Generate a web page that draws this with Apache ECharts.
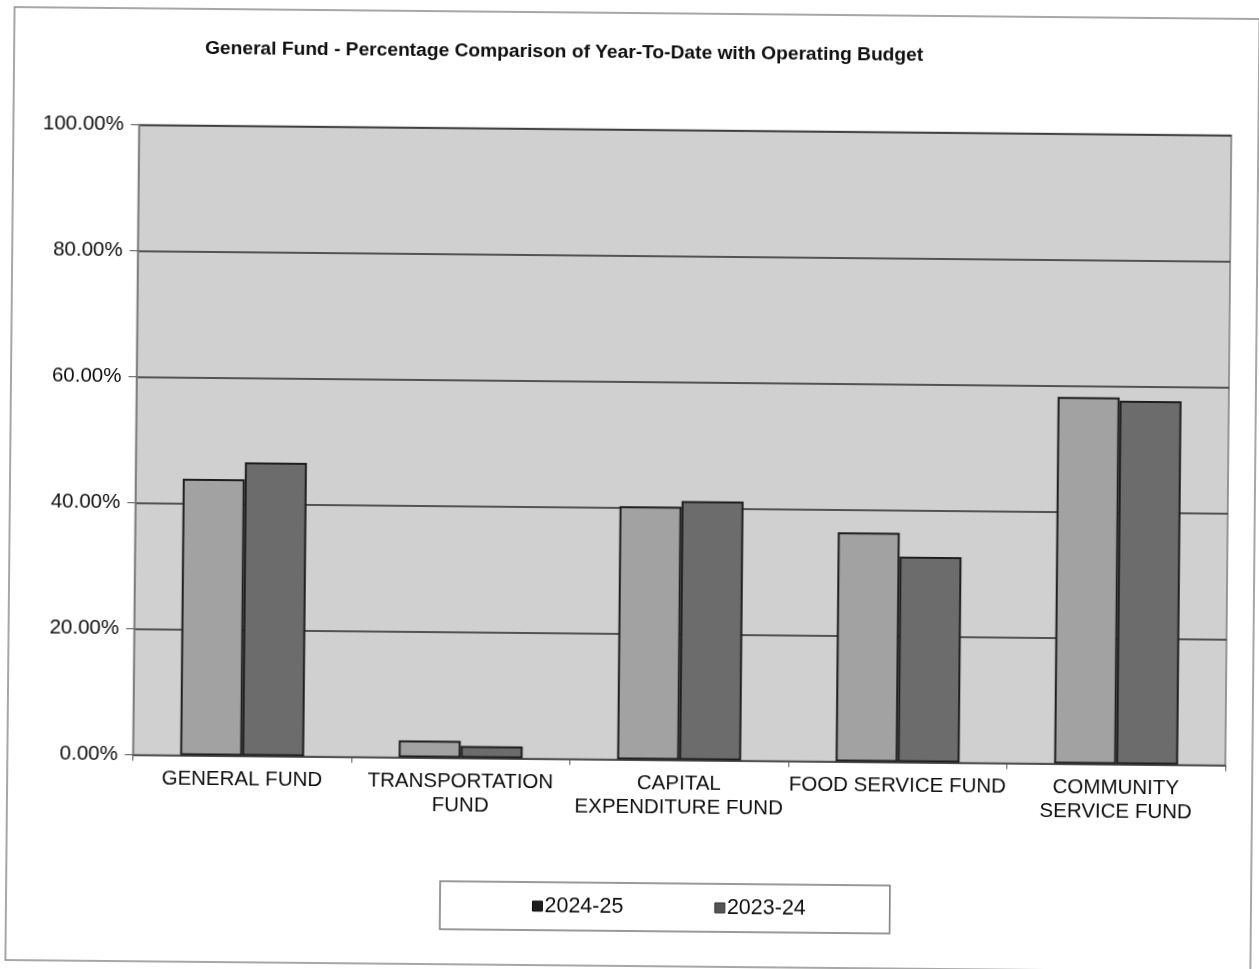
<!DOCTYPE html>
<html>
<head>
<meta charset="utf-8">
<title>General Fund - Percentage Comparison</title>
<script src="https://cdn.jsdelivr.net/npm/echarts@6/dist/echarts.min.js"></script>
<style>
  html, body { margin: 0; padding: 0; background: #ffffff; overflow: hidden; }
  #chart {
    width: 1259px; height: 969px;
    transform: rotate(0.55deg);
    transform-origin: 629.5px 484.5px;
  }
</style>
</head>
<body>
<div id="chart"></div>
<script>
// Fund categories (axis labels, line-broken as printed)
const categories = [
  'GENERAL FUND',
  'TRANSPORTATION\nFUND',
  'CAPITAL\nEXPENDITURE FUND',
  'FOOD SERVICE FUND',
  'COMMUNITY\nSERVICE FUND'
];
// Year-to-date spending as a percentage of the operating budget
const seriesNames = ['2024-25', '2023-24'];
const values2024_25 = [43.9, 2.7, 40.2, 36.4, 58.2];
const values2023_24 = [46.6, 1.9, 41.1, 32.6, 57.7];
// Value axis ticks
const yMin = 0, yMax = 100, yStep = 20;

const FONT = '"Liberation Sans", Arial, sans-serif';
const INK = '#0e0e0e';

const chart = echarts.init(document.getElementById('chart'), null, { renderer: 'canvas' });

chart.setOption({
  backgroundColor: '#ffffff',
  animation: false,
  title: {
    text: 'General Fund - Percentage Comparison of Year-To-Date with Operating Budget',
    left: 555,
    top: 38,
    textAlign: 'center',
    textStyle: { fontFamily: FONT, fontSize: 19.2, fontWeight: 'bold', color: INK }
  },
  graphic: [{
    type: 'rect',
    shape: { x: 10, y: 13, width: 1245, height: 953 },
    style: { fill: 'none', stroke: '#8a8a8a', lineWidth: 1.5 },
    silent: true,
    z: -10
  }],
  legend: {
    data: [
      { name: seriesNames[0], itemStyle: { color: '#1e1e1e', borderColor: '#111', borderWidth: 1 } },
      { name: seriesNames[1], itemStyle: { color: '#555555', borderColor: '#333', borderWidth: 1 } }
    ],
    left: 444,
    top: 883,
    orient: 'horizontal',
    padding: [13, 84, 13, 92],
    itemGap: 91,
    itemWidth: 10,
    itemHeight: 10,
    icon: 'rect',
    backgroundColor: '#ffffff',
    borderColor: '#7a7a7a',
    borderWidth: 1.5,
    textStyle: { fontFamily: FONT, fontSize: 21.5, color: INK, padding: [0, 0, 0, -3] }
  },
  grid: {
    left: 135.5,
    right: 31,
    top: 129.5,
    bottom: 209.5,
    show: true,
    backgroundColor: '#d0d0d0',
    borderColor: '#7c7c7c',
    borderWidth: 1.5
  },
  xAxis: {
    type: 'category',
    data: categories,
    axisLine: { show: true, lineStyle: { color: '#555555', width: 1.5 } },
    axisTick: { show: true, length: 6, lineStyle: { color: '#555555' } },
    axisLabel: {
      interval: 0,
      margin: 12,
      fontFamily: FONT,
      fontSize: 20.5,
      lineHeight: 24,
      color: INK
    },
    splitLine: { show: false }
  },
  yAxis: {
    type: 'value',
    min: yMin,
    max: yMax,
    interval: yStep,
    axisLine: { show: true, lineStyle: { color: '#7c7c7c', width: 1.5 } },
    axisTick: { show: true, length: 8, lineStyle: { color: '#555555' } },
    axisLabel: {
      margin: 15,
      fontFamily: FONT,
      fontSize: 20.5,
      color: INK,
      formatter: v => v.toFixed(2) + '%'
    },
    splitLine: { show: true, lineStyle: { color: '#2a2a2a', width: 1.5 } }
  },
  series: [
    {
      name: seriesNames[0],
      type: 'bar',
      data: values2024_25,
      barWidth: 62,
      barGap: '0%',
      itemStyle: { color: '#a2a2a2', borderColor: '#1e1e1e', borderWidth: 2 }
    },
    {
      name: seriesNames[1],
      type: 'bar',
      data: values2023_24,
      barWidth: 62,
      barGap: '0%',
      itemStyle: { color: '#6c6c6c', borderColor: '#1e1e1e', borderWidth: 2 }
    }
  ]
});
</script>
</body>
</html>
